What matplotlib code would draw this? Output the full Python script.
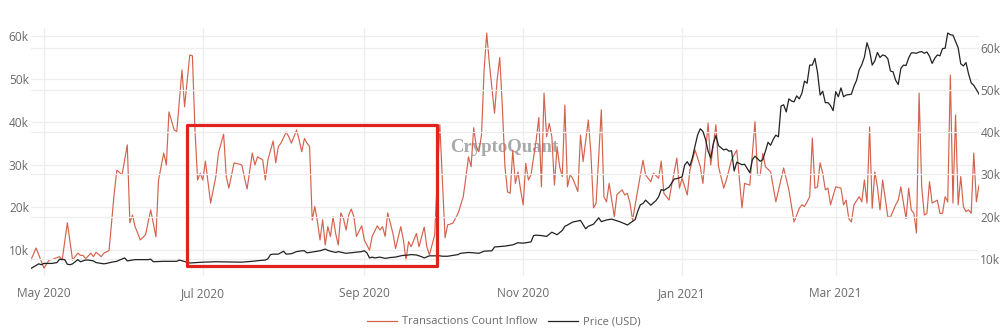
import numpy as np
import matplotlib
matplotlib.use('Agg')
import matplotlib.pyplot as plt
import matplotlib.dates as mdates
from matplotlib.patches import Rectangle
from matplotlib.lines import Line2D

plt.rcParams['font.family'] = ['Open Sans', 'DejaVu Sans']

# ---------------- data ----------------
start_date = np.datetime64('2020-04-26')

# Transactions Count Inflow (thousands), day offset from start_date
tx_day = [0, 2, 5, 7, 8, 11, 12, 14, 16, 18, 19, 20, 21, 23, 24, 25, 27, 28, 30, 32, 33, 35, 37, 38, 39, 40,
          42, 44, 46, 48, 49, 51, 52, 53, 55, 56, 58, 59, 61, 62, 63, 64, 65, 66, 67, 69, 71, 72, 74, 75, 76,
          78, 80, 81, 82, 83, 85, 86, 87, 89, 90, 91, 93, 94, 95, 96, 98, 99, 100, 101, 102, 103, 104, 105,
          106, 107, 108, 109, 110, 111, 112, 113, 114, 115, 116, 117, 118, 119, 120, 121, 122, 123, 124, 125,
          127, 128, 130, 131, 133, 134, 135, 136, 137, 139, 140, 142, 143, 144, 145, 146, 148, 149, 151, 152,
          153, 155, 157, 159, 160, 162, 164, 166, 167, 168, 169, 170, 171, 172, 173, 174, 175, 176, 178, 179,
          180, 181, 182, 183, 184, 185, 186, 187, 188, 189, 190, 191, 192, 194, 195, 196, 197, 198, 199, 200,
          201, 202, 203, 204, 205, 206, 207, 208, 210, 211, 212, 214, 215, 216, 217, 219, 220, 221, 222, 224,
          225, 227, 228, 229, 230, 231, 233, 235, 236, 238, 239, 241, 242, 243, 245, 246, 248, 249, 250, 252,
          253, 255, 257, 258, 260, 261, 263, 264, 266, 267, 269, 271, 273, 274, 276, 278, 279, 280, 281, 282,
          284, 286, 289, 291, 293, 295, 296, 297, 298, 299, 300, 301, 302, 303, 304, 305, 306, 307, 309, 311,
          312, 313, 314, 315, 316, 318, 319, 320, 321, 322, 323, 324, 325, 326, 327, 329, 330, 332, 333, 334,
          335, 336, 337, 338, 339, 340, 341, 342, 343, 344, 345, 346, 348, 349, 350, 351, 352, 353, 354, 355,
          356, 357, 358, 359, 360, 361, 362, 363, 364]
tx_inflow_k = [7.7, 10.5, 5.8, 7.7, 7.8, 8.5, 7.7, 16.4, 7.7, 9.3, 8.8, 8.8, 8.0, 9.3, 8.5, 9.5, 8.5, 9.3, 9.9,
               23.4, 28.7, 27.6, 34.6, 16.4, 18.2, 15.5, 12.4, 13.6, 19.4, 13.1, 26.4, 32.7, 29.9, 42.3, 38.1,
               37.7, 52.1, 43.5, 55.6, 55.4, 38.0, 26.4, 28.0, 26.4, 30.8, 21.0, 27.2, 32.7, 37.1, 27.2, 24.5,
               30.4, 30.1, 29.9, 26.9, 24.3, 32.7, 29.9, 31.8, 31.1, 26.4, 31.1, 35.5, 30.4, 34.2, 35.0, 37.6,
               36.5, 35.0, 36.5, 38.1, 35.7, 33.0, 36.1, 35.0, 34.2, 17.0, 20.2, 16.7, 12.4, 17.1, 11.2, 15.5,
               13.2, 17.8, 13.9, 11.2, 18.7, 17.4, 14.7, 18.2, 19.6, 17.8, 13.2, 15.7, 12.4, 10.0, 13.2, 15.7,
               14.7, 15.5, 13.2, 18.7, 13.9, 10.4, 15.5, 12.4, 7.7, 12.0, 10.8, 13.9, 10.8, 15.4, 10.8, 8.9,
               13.5, 39.3, 12.9, 15.9, 16.3, 18.6, 22.5, 27.0, 31.8, 29.5, 38.6, 34.2, 33.0, 36.9, 52.1, 60.7,
               53.7, 42.0, 49.8, 55.0, 43.5, 29.5, 23.6, 23.3, 33.4, 25.6, 28.3, 24.1, 20.6, 30.3, 26.4, 27.6,
               35.7, 41.0, 24.8, 46.7, 36.5, 39.6, 36.5, 25.2, 34.2, 29.5, 27.2, 43.9, 24.8, 27.6, 26.8, 23.7,
               36.9, 30.7, 40.4, 32.6, 19.9, 21.0, 42.8, 22.5, 21.3, 25.6, 17.8, 23.0, 24.1, 22.9, 23.3, 21.0,
               17.0, 24.1, 31.0, 27.6, 26.0, 28.0, 26.8, 30.8, 23.3, 21.7, 25.2, 31.5, 24.5, 26.8, 22.9, 28.7,
               33.4, 29.5, 25.6, 39.7, 29.9, 39.3, 29.5, 24.5, 26.4, 31.1, 33.4, 19.9, 25.6, 25.2, 40.0, 27.6,
               27.6, 32.6, 29.5, 28.3, 21.3, 29.2, 24.1, 16.6, 19.8, 20.6, 20.2, 21.3, 22.5, 36.2, 24.5, 24.8,
               30.4, 28.0, 24.1, 24.5, 20.6, 24.8, 24.5, 20.6, 21.7, 17.4, 16.6, 20.6, 22.5, 21.3, 26.4, 21.0,
               38.8, 19.8, 28.3, 24.8, 19.4, 26.4, 17.8, 17.7, 20.6, 21.7, 24.8, 21.0, 17.4, 24.5, 19.4, 18.6,
               14.0, 46.7, 24.8, 18.2, 18.6, 26.0, 21.0, 21.7, 18.6, 18.6, 22.5, 21.3, 50.9, 21.0, 41.6, 20.6,
               27.2, 20.2, 19.0, 19.4, 18.6, 32.7, 21.3, 25.2]

# Price (USD, thousands), day offset from start_date
price_day = [0, 3, 4, 5, 8, 10, 11, 13, 14, 15, 16, 17, 18, 19, 21, 22, 24, 25, 28, 29, 31, 33, 34, 36, 37, 40,
             45, 46, 47, 51, 56, 57, 61, 66, 71, 76, 81, 85, 88, 90, 91, 92, 93, 95, 97, 98, 100, 102, 104, 105,
             106, 108, 110, 111, 113, 114, 115, 117, 118, 121, 124, 127, 128, 129, 130, 131, 132, 134, 136, 138,
             140, 142, 143, 145, 146, 148, 150, 151, 153, 157, 158, 160, 162, 164, 165, 168, 170, 172, 174, 177,
             178, 180, 182, 185, 187, 189, 190, 192, 193, 194, 196, 198, 200, 202, 204, 205, 206, 208, 211, 213,
             214, 216, 218, 219, 221, 223, 226, 228, 229, 232, 233, 234, 235, 236, 238, 240, 241, 242, 243, 245,
             247, 248, 250, 251, 252, 253, 254, 255, 256, 257, 258, 259, 260, 261, 262, 263, 264, 266, 267, 268,
             269, 270, 271, 273, 274, 276, 277, 278, 280, 281, 282, 283, 284, 285, 286, 287, 288, 289, 290, 291,
             292, 293, 294, 295, 296, 297, 298, 299, 300, 301, 302, 303, 304, 305, 306, 307, 308, 309, 310, 311,
             312, 313, 314, 315, 316, 317, 318, 319, 320, 321, 322, 323, 324, 325, 326, 327, 328, 329, 330, 331,
             332, 333, 334, 335, 336, 337, 338, 339, 340, 341, 342, 343, 344, 345, 346, 347, 348, 349, 350, 351,
             352, 353, 354, 355, 356, 357, 358, 359, 360, 361, 362, 363, 364]
price_usd_k = [7.7, 8.8, 8.6, 8.9, 8.9, 9.1, 9.9, 9.8, 8.7, 8.6, 8.8, 9.3, 9.8, 9.3, 9.7, 9.7, 9.5, 9.1, 8.8, 8.9,
               9.2, 9.4, 9.7, 10.2, 9.5, 9.8, 9.8, 9.9, 9.3, 9.4, 9.4, 9.7, 9.0, 9.2, 9.3, 9.25, 9.2, 9.4, 9.6,
               9.7, 10.0, 11.0, 11.1, 11.1, 11.8, 11.1, 11.2, 11.7, 11.9, 11.9, 11.4, 11.6, 11.8, 11.9, 12.3,
               12.0, 11.8, 11.5, 11.7, 11.3, 11.5, 11.7, 11.9, 11.4, 10.2, 10.4, 10.2, 10.4, 10.1, 10.3, 10.4,
               10.7, 10.8, 10.9, 11.0, 10.9, 10.5, 10.2, 10.7, 10.7, 10.6, 10.6, 10.8, 11.0, 11.3, 11.5, 11.4,
               11.3, 11.8, 11.9, 12.8, 12.9, 13.0, 13.3, 13.8, 13.7, 13.8, 14.0, 15.5, 15.6, 15.5, 15.3, 16.3,
               15.7, 16.7, 17.7, 18.0, 18.7, 19.1, 17.1, 17.7, 18.2, 19.7, 18.8, 19.2, 19.4, 18.8, 18.3, 18.0,
               19.3, 21.3, 22.8, 23.1, 23.9, 22.7, 23.8, 24.7, 26.4, 26.2, 27.0, 28.9, 29.0, 29.4, 32.2, 33.0,
               32.0, 34.0, 36.8, 39.4, 40.8, 40.2, 38.3, 35.5, 33.9, 37.3, 39.2, 36.8, 35.8, 36.0, 35.5, 35.6,
               30.8, 32.9, 32.3, 32.4, 30.4, 33.5, 34.3, 33.1, 33.5, 35.5, 37.6, 36.9, 38.3, 39.3, 38.9, 46.2,
               46.5, 44.8, 47.9, 47.4, 47.2, 48.6, 47.9, 49.2, 52.1, 51.6, 55.9, 55.9, 57.5, 54.2, 48.8, 49.7,
               47.0, 47.0, 46.3, 45.1, 49.6, 48.4, 50.5, 48.4, 48.8, 48.9, 49.0, 50.9, 52.3, 54.8, 56.0, 57.8,
               61.2, 59.3, 55.9, 56.9, 58.9, 57.7, 58.3, 58.1, 57.4, 54.5, 54.3, 52.3, 51.3, 55.1, 55.9, 55.8,
               57.6, 58.8, 58.8, 58.7, 59.0, 59.1, 58.7, 59.0, 58.0, 56.3, 57.5, 58.3, 58.1, 59.8, 59.9, 63.5,
               63.1, 63.0, 61.5, 60.0, 56.2, 55.7, 56.5, 53.8, 51.7, 51.1, 50.1, 49.0]

x_tick_dates = ['2020-05-01', '2020-07-01', '2020-09-01', '2020-11-01', '2021-01-01', '2021-03-01']
x_tick_labels = ['May 2020', 'Jul 2020', 'Sep 2020', 'Nov 2020', 'Jan 2021', 'Mar 2021']
left_ticks_k = [10, 20, 30, 40, 50, 60]
right_ticks_k = [10, 20, 30, 40, 50, 60]
series_labels = ['Transactions Count Inflow', 'Price (USD)']

# highlight box (annotation)
box_start, box_end = '2020-06-25', '2020-09-29'
box_low_k, box_high_k = 6.3, 39.3

# ---------------- style ----------------
RED = '#d4634d'
BLACK = '#222222'
GRID = '#eeeeee'
TXT = '#6a6a6a'

W, H = 1008, 336
fig = plt.figure(figsize=(W / 100, H / 100), dpi=100)
px_l, px_r, px_t, px_b = 30.9, 979, 28, 276
ax = fig.add_axes([px_l / W, 1 - px_b / H, (px_r - px_l) / W, (px_b - px_t) / H])
ax2 = ax.twinx()

tx_dates = start_date + np.array(tx_day).astype('timedelta64[D]')
price_dates = start_date + np.array(price_day).astype('timedelta64[D]')

ax.plot(tx_dates, tx_inflow_k, color=RED, lw=0.85, zorder=3)
ax2.plot(price_dates, price_usd_k, color=BLACK, lw=0.9, zorder=3)

ax.set_xlim(start_date, start_date + np.timedelta64(364, 'D'))
ax.set_ylim(3.97, 61.9)
ax2.set_ylim(5.92, 64.69)

ax.set_xticks([np.datetime64(d) for d in x_tick_dates])
ax.set_xticklabels(x_tick_labels)
ax.set_yticks(left_ticks_k)
ax.set_yticklabels([f'{v}k' for v in left_ticks_k])
ax2.set_yticks(right_ticks_k)
ax2.set_yticklabels([f'{v}k' for v in right_ticks_k])

for a in (ax, ax2):
    for s in a.spines.values():
        s.set_visible(False)
    a.tick_params(length=0, labelsize=8.6, labelcolor=TXT)
ax.tick_params(axis='x', pad=8)
ax.tick_params(axis='y', pad=1.5)
ax2.tick_params(axis='y', pad=1.0)

ax.grid(True, axis='both', color=GRID, lw=0.9, zorder=0)
ax2.grid(True, axis='y', color=GRID, lw=0.9, zorder=0)
ax.set_axisbelow(True)
ax2.set_axisbelow(True)

# watermark (behind the lines)
ax.text(504 / W * 0 + 0.5 + (504 - (px_l + px_r) / 2) / (px_r - px_l), (px_b - 148) / (px_b - px_t),
        'CryptoQuant', transform=ax.transAxes, ha='center', va='center', fontsize=13.5,
        fontweight='bold', color='#a9a9a9', family=['Liberation Serif', 'DejaVu Serif'], zorder=1)

# highlight rectangle
x0 = mdates.date2num(np.datetime64(box_start))
x1 = mdates.date2num(np.datetime64(box_end))
rect = Rectangle((x0, box_low_k), x1 - x0, box_high_k - box_low_k, fill=False,
                 edgecolor='#e0231d', lw=2.3, joinstyle='round', zorder=10, clip_on=False)
ax2.add_patch(rect)
rect.set_transform(ax.transData)

# legend
handles = [Line2D([], [], color=RED, lw=0.9), Line2D([], [], color=BLACK, lw=0.9)]
leg = fig.legend(handles, series_labels, loc='center', bbox_to_anchor=(0.5, 1 - 322 / H), ncol=2,
                 frameon=False, fontsize=8, handlelength=2.7, handletextpad=0.45, columnspacing=1.0,
                 borderaxespad=0, borderpad=0)
for t in leg.get_texts():
    t.set_color(TXT)

fig.savefig('out.png', dpi=100)
